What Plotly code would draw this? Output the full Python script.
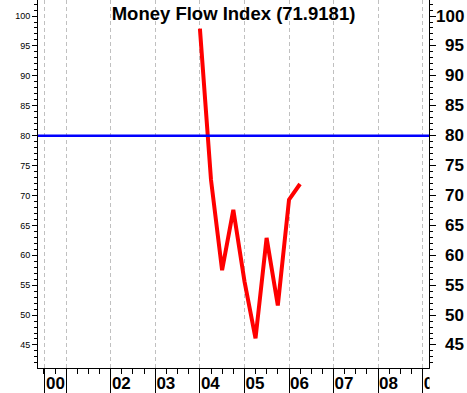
import plotly.graph_objects as go

# ---- data ----
dates = ["2004-01-01", "2004-04-01", "2004-07-01", "2004-10-01", "2005-01-01",
         "2005-04-01", "2005-07-01", "2005-10-01", "2006-01-01", "2006-04-01"]
mfi = [97.9, 72.6, 57.5, 67.6, 55.6, 46.1, 62.9, 51.6, 69.3, 71.9181]
threshold = 80

year_tick_dates = ["2000-07-09", "2001-01-01", "2002-01-01", "2003-01-01", "2004-01-01",
                   "2005-01-01", "2006-01-01", "2007-01-01", "2008-01-01", "2009-01-01"]
year_tick_labels = ["00", "", "02", "03", "04", "05", "06", "07", "08", "09"]
y_tick_values = [45, 50, 55, 60, 65, 70, 75, 80, 85, 90, 95, 100]

x_range = ["2000-05-13", "2009-02-22"]
y_range = [41.15, 102.68]

FONT = "Arial, Liberation Sans, sans-serif"

fig = go.Figure()
fig.add_trace(go.Scatter(x=dates, y=mfi, mode="lines",
                         line=dict(color="#ff0000", width=4),
                         showlegend=False, hoverinfo="skip"))
fig.add_trace(go.Scatter(x=[], y=[], yaxis="y2", showlegend=False, hoverinfo="skip"))

fig.add_shape(type="line", xref="paper", x0=0, x1=1, yref="y", y0=threshold, y1=threshold,
              line=dict(color="#0000ff", width=2.5), layer="above")

# right-side labels (right aligned)
for v in y_tick_values:
    fig.add_annotation(x=1, xref="paper", xanchor="right", xshift=37,
                       y=v, yref="y", yanchor="middle", text=str(v), showarrow=False,
                       font=dict(family=FONT, size=17, color="black", weight="bold"))

# cover the clipped part of last x label
fig.add_shape(type="rect", xref="paper", yref="paper", x0=1.0015, x1=1.2, y0=-0.2, y1=-0.002,
              fillcolor="white", line=dict(width=0), layer="above")

fig.update_layout(
    width=467, height=393,
    margin=dict(l=38, r=38, t=0, b=25),
    paper_bgcolor="white", plot_bgcolor="white",
    title=dict(text="<b>Money Flow Index (71.9181)</b>", x=0.5, xref="paper",
               y=1 - 13.5 / 393, yref="container", yanchor="middle", xanchor="center",
               font=dict(family=FONT, size=18.5, color="black")),
    xaxis=dict(type="date", range=x_range, tickmode="array", tickvals=year_tick_dates,
               ticktext=year_tick_labels, ticks="outside", ticklen=25, tickcolor="black",
               tickwidth=1, ticklabelposition="outside right",
               tickfont=dict(family=FONT, size=17, color="black", weight="bold"),
               showgrid=True, gridcolor="#c0c0c0", griddash="4px,3px", gridwidth=1,
               showline=True, linecolor="black", linewidth=1, zeroline=False,
               minor=dict(dtick="M3", tick0="2001-01-01", ticks="outside", ticklen=5,
                          tickcolor="black", showgrid=False)),
    yaxis=dict(range=y_range, tickmode="array", tickvals=y_tick_values, ticks="outside",
               ticklen=5, tickcolor="black", showgrid=False, zeroline=False,
               showline=True, linecolor="black", linewidth=1,
               tickfont=dict(family=FONT, size=9, color="black"),
               minor=dict(dtick=1, tick0=0, ticks="outside", ticklen=3, tickcolor="black",
                          showgrid=False)),
    yaxis2=dict(range=y_range, overlaying="y", side="right", anchor="x",
                tickmode="array", tickvals=y_tick_values, ticks="outside", ticklen=6,
                tickcolor="black", showticklabels=False, showgrid=False, zeroline=False,
                showline=True, linecolor="black", linewidth=1,
                minor=dict(dtick=1, tick0=0, ticks="outside", ticklen=3, tickcolor="black",
                           showgrid=False)),
)

fig.write_html("out.html", config={"displayModeBar": False, "staticPlot": True},
               post_script="document.body.style.margin='0';document.body.style.padding='0';")
